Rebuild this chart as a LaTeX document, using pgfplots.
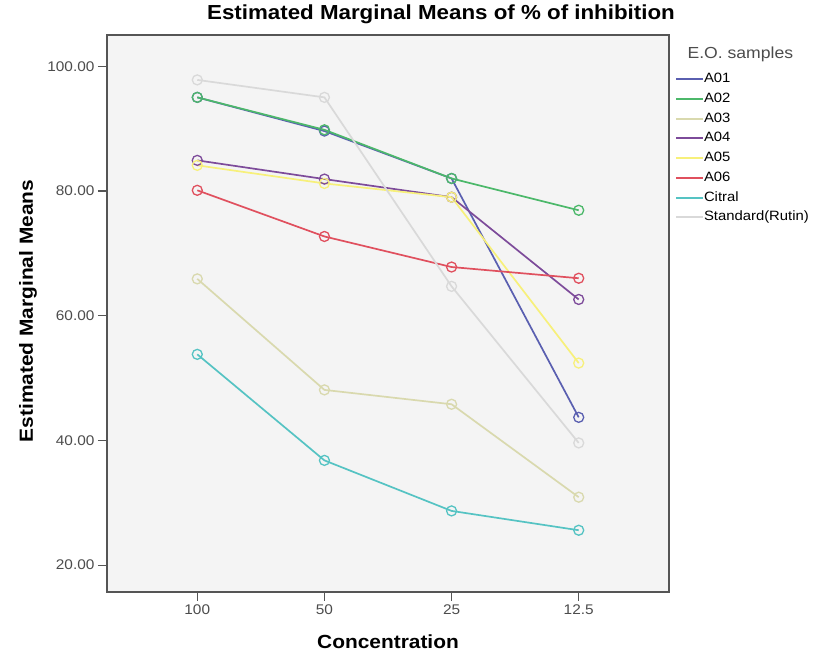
\documentclass[border=0pt]{standalone}
\usepackage{pgfplots}
\pgfplotsset{compat=1.18}
\usepackage{fontspec}
\setmainfont{Liberation Sans}[FakeStretch=1.1]
\definecolor{cA01}{HTML}{5A5FB0}
\definecolor{cA02}{HTML}{4CB86A}
\definecolor{cA03}{HTML}{D9D9AE}
\definecolor{cA04}{HTML}{7D4B9A}
\definecolor{cA05}{HTML}{F7F07A}
\definecolor{cA06}{HTML}{E0505E}
\definecolor{cCit}{HTML}{55C3C3}
\definecolor{cRut}{HTML}{D9D9D9}
\definecolor{bg}{HTML}{F4F4F4}
\definecolor{frame}{HTML}{555555}
\begin{document}
\begin{tikzpicture}[x=1pt,y=1pt]
\path[use as bounding box] (0,0) rectangle (814,655);
\begin{axis}[
  at={(107pt,63pt)}, anchor=south west,
  scale only axis, width=562pt, height=557pt,
  xmin=-0.71, xmax=3.71, ymin=15.7, ymax=105,
  xtick={0,1,2,3}, xticklabels={100,50,25,12.5},
  ytick={20,40,60,80,100},
  yticklabel style={/pgf/number format/.cd, fixed, fixed zerofill, precision=2},
  /pgf/number format/assume math mode=true,
  tick label style={font=\fontsize{14}{16}\selectfont, text=black!70},
  tick align=outside, tick pos=left, major tick length=9pt,
  every tick/.style={frame, line width=1.3pt},
  axis line style={frame, line width=1.5pt},
  axis background/.style={fill=bg},
  every axis plot/.append style={line width=1.7pt, mark=o, mark size=5pt, mark options={line width=1.3pt}},
  legend cell align=left,
  legend image code/.code={\draw[#1, mark=none, line width=2pt] (0pt,0pt) -- (27pt,0pt);},
  legend style={at={(1.005,0.936)}, anchor=north west, draw=none, fill=none,
    font=\fontsize{13.5}{15}\selectfont,
    nodes={inner sep=0pt, text height=10pt, text depth=3pt},
    row sep=6.7pt, /tikz/every even column/.append style={column sep=3pt}},
]
\addplot[color=cA01] coordinates {(0,95.0) (1,89.6) (2,82.0) (3,43.7)};
\addlegendentry{A01}
\addplot[color=cA02] coordinates {(0,95.0) (1,89.8) (2,82.0) (3,76.9)};
\addlegendentry{A02}
\addplot[color=cA03] coordinates {(0,65.9) (1,48.1) (2,45.8) (3,30.9)};
\addlegendentry{A03}
\addplot[color=cA04] coordinates {(0,84.9) (1,81.9) (2,79.0) (3,62.6)};
\addlegendentry{A04}
\addplot[color=cA05] coordinates {(0,84.1) (1,81.2) (2,79.0) (3,52.4)};
\addlegendentry{A05}
\addplot[color=cA06] coordinates {(0,80.1) (1,72.7) (2,67.8) (3,66.0)};
\addlegendentry{A06}
\addplot[color=cCit] coordinates {(0,53.8) (1,36.8) (2,28.7) (3,25.6)};
\addlegendentry{Citral}
\addplot[color=cRut] coordinates {(0,97.8) (1,95.0) (2,64.7) (3,39.6)};
\addlegendentry{Standard(Rutin)}
\end{axis}
\node[font=\bfseries\fontsize{20.3}{24}\selectfont] at (441,641) {Estimated Marginal Means of \% of inhibition};
\node[font=\bfseries\fontsize{19}{22}\selectfont, rotate=90] at (28,344) {Estimated Marginal Means};
\node[font=\bfseries\fontsize{19}{22}\selectfont] at (388,13) {Concentration};
\node[font=\fontsize{16}{19}\selectfont, text=black!70, anchor=west] at (684,601) {E.O. samples};
\end{tikzpicture}
\end{document}
